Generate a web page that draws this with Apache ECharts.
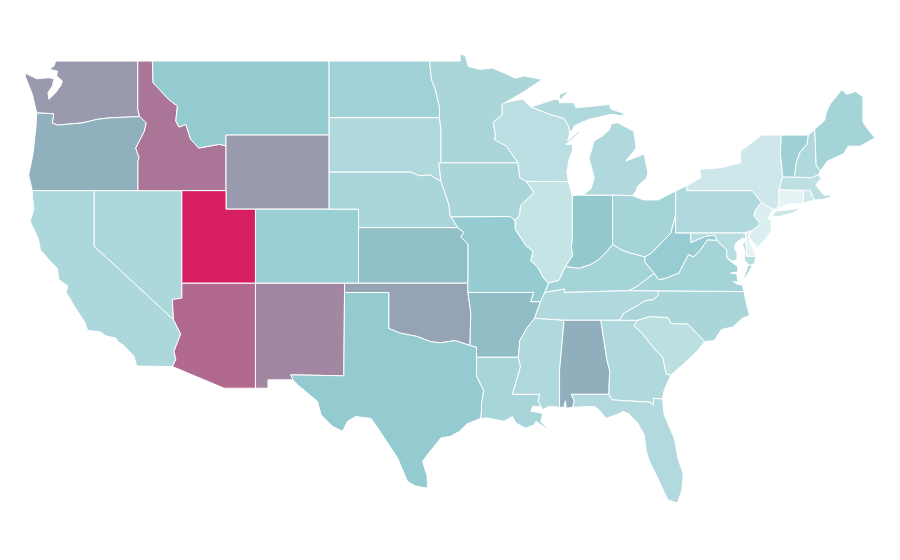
<!DOCTYPE html>
<html>
<head>
<meta charset="utf-8">
<title>US states</title>
<script src="https://cdn.jsdelivr.net/npm/echarts@6/dist/echarts.min.js"></script>
<style>
  html, body { margin: 0; background: #fff; }
  #chart { width: 900px; height: 560px; }
</style>
</head>
<body>
<div id="chart"></div>
<script>
// state names and values (colour -> value)
var states = ['Washington','Oregon','California','Nevada','Idaho','Montana','Wyoming','Utah','Arizona','Colorado','New Mexico',
  'North Dakota','South Dakota','Nebraska','Kansas','Oklahoma','Texas','Minnesota','Iowa','Missouri','Arkansas','Louisiana',
  'Wisconsin','Illinois','Indiana','Michigan','Ohio','Kentucky','Tennessee','Mississippi','Alabama','Georgia','Florida',
  'South Carolina','North Carolina','Virginia','West Virginia','Maryland','Delaware','Pennsylvania','New Jersey','New York',
  'Connecticut','Rhode Island','Massachusetts','Vermont','New Hampshire','Maine'];
var values = [64,52,18,18,79,25,64,100,82,23,75,
  21.5,17,19,38,59,25,18.5,18.5,24.4,39,19.5,
  14,11,28,17,20,20,17,17,53,17,16.5,
  13.5,18.5,20,24,15.5,2,17,5,9,
  2,9,13,22,17,20];
var colorStops = ['#edf7f8','#93cbd0','#8fb4bf','#a386a2','#d81e63'];

// state outlines, lon/lat rings, registered as the base map
var idmt = [[-116.05,49],[-116,47.83],[-115.37,47.29],[-114.9,46.9],[-114.35,46.57],[-114.46,45.76],[-114.24,45.43],[-113.78,45.58],[-113.45,44.77],[-112.9,44.3],[-111.5,44.5],[-111.05,44.42]];
var columbia = [[-123.9,46.2],[-122.75,46.15],[-122.85,45.66],[-122.5,45.54],[-120.8,45.66],[-119.8,45.85],[-119,45.93],[-116.92,46]];
var snake = [[-116.92,46],[-116.46,45.66],[-116.6,45.2],[-117.18,44.3],[-116.95,43.77],[-117.03,43.6],[-117.03,42]];
var redRiver = [[-94.48,33.64],[-95.5,33.9],[-96.5,33.78],[-97.2,33.85],[-98.1,34.13],[-99.2,34.3],[-100,34.56]];
var midMiss = [[-91.42,40.38],[-91.4,39.9],[-90.65,39],[-90.2,38.75],[-90.35,38.2],[-89.9,37.9],[-89.5,37.3],[-89.15,37]];
var ohioRiver = [[-84.8,39.1],[-85.2,38.7],[-85.7,38.3],[-86.3,38],[-87.1,37.8],[-88,37.9]];
var ohioUpper = [[-80.52,40.64],[-80.85,39.7],[-81.7,39],[-82.2,38.6],[-82.6,38.42]];
var ohKy = [[-82.6,38.42],[-83.7,38.65],[-84.2,38.8],[-84.8,39.1]];
var wvVa = [[-77.72,39.32],[-78.35,39.35],[-78.87,38.77],[-79.3,38.42],[-79.65,38.55],[-80.3,37.55],[-81.25,37.25],[-81.68,37.2],[-81.97,37.54]];
var tnNc = [[-84.32,35],[-84,35.4],[-83.1,35.8],[-82.6,36.05],[-82,36.12],[-81.7,36.35],[-81.68,36.59]];
var scLine = [[-83.1,35],[-82.3,35.2],[-81.05,35.15],[-80.8,34.82],[-79.68,34.8],[-78.55,33.85]];
var gaSc = [[-83.1,35],[-83.35,34.7],[-82.8,34.3],[-82,33.5],[-81.4,33],[-81.15,32.1],[-80.85,32.03]];
var wiUp = [[-90.4,46.55],[-89.1,46.13],[-88.1,45.9],[-87.8,45.5],[-87.7,45.15]];
var rev = function (a) { return a.slice().reverse(); };

var shapes = {
  'Washington': [[[-122.62,49],[-117.04,49],[-117.04,46.42],[-116.92,46]].concat(rev(columbia), [[-124.2,47.2],[-124.65,48.1],[-124.7,48.35],[-123.9,48.04],[-123.07,48.1],[-122.73,48.04],[-122.84,47.65],[-123.14,47.29],[-123.07,46.93],[-122.62,47.29],[-122.27,47.68],[-122.16,47.92],[-122.55,48.19],[-122.5,48.46],[-123.07,48.55],[-122.73,48.73]])],
  'Oregon': [columbia.concat(snake, [[-124.2,42],[-124.45,42.85],[-124.15,44],[-123.95,45.5]])],
  'California': [[[-124.2,42],[-120,42],[-120,39],[-114.62,35.04],[-114.13,34.26],[-114.58,33.32],[-114.46,32.87],[-114.69,32.5],[-117.12,32.53],[-117.3,33.05],[-118,33.65],[-118.4,33.85],[-118.5,34.03],[-119.2,34.15],[-119.6,34.38],[-120.44,34.45],[-120.65,34.9],[-121.3,35.7],[-121.9,36.5],[-121.8,36.85],[-122.4,37.2],[-122.5,37.8],[-123,38.2],[-123.65,38.8],[-123.8,39.4],[-124.35,40.35],[-124.1,41],[-124.2,41.75]]],
  'Nevada': [[[-120,42],[-114.05,42],[-114.05,36.2],[-114.69,36.12],[-114.62,35.04],[-120,39]]],
  'Idaho': [[[-117.04,49]].concat(idmt, [[-111.05,42]], rev(snake), [[-117.04,46.42]])],
  'Montana': [[[-116.05,49],[-104.05,49],[-104.05,45],[-111.05,45]].concat(rev(idmt))],
  'Wyoming': [[[-111.05,45],[-104.05,45],[-104.05,41],[-111.05,41]]],
  'Utah': [[[-114.05,42],[-111.05,42],[-111.05,41],[-109.05,41],[-109.05,37],[-114.05,37]]],
  'Arizona': [[[-114.05,37],[-109.05,37],[-109.05,31.33],[-111.18,31.33],[-114.69,32.5],[-114.46,32.87],[-114.58,33.32],[-114.13,34.26],[-114.62,35.04],[-114.69,36.12],[-114.05,36.2]]],
  'Colorado': [[[-109.05,41],[-102.05,41],[-102.05,37],[-109.05,37]]],
  'New Mexico': [[[-109.05,37],[-103,37],[-103.05,32],[-106.65,32.05],[-106.5,31.78],[-108.2,31.78],[-108.2,31.33],[-109.05,31.33]]],
  'North Dakota': [[[-104.05,49],[-97.23,49],[-97.1,48],[-96.85,47.5],[-96.55,46.5],[-96.56,45.94],[-104.05,45.94]]],
  'South Dakota': [[[-104.05,45.94],[-96.56,45.94],[-96.45,45.3],[-96.45,43.5],[-96.6,43.5],[-96.45,42.49],[-97.2,42.85],[-97.9,42.8],[-98.5,43],[-104.05,43]]],
  'Nebraska': [[[-104.05,43],[-98.5,43],[-97.9,42.8],[-97.2,42.85],[-96.45,42.49],[-96.1,41.7],[-95.9,41.2],[-95.85,40.7],[-95.31,40],[-102.05,40],[-102.05,41],[-104.05,41]]],
  'Kansas': [[[-102.05,40],[-95.31,40],[-94.9,39.75],[-95.1,39.5],[-94.61,39.1],[-94.62,37],[-102.05,37]]],
  'Oklahoma': [[[-103,37],[-94.62,37],[-94.62,36.5],[-94.43,35.4]].concat(redRiver, [[-100,36.5],[-103,36.5]])],
  'Texas': [[[-103,36.5],[-100,36.5]].concat(rev(redRiver), [[-94.04,33.55],[-94.04,32],[-93.55,31.2],[-93.7,30.5],[-93.7,30.1],[-93.75,29.7],[-94.7,29.4],[-95.2,29],[-95.8,28.73],[-96.46,28.64],[-97.36,27.75],[-97.7,27.38],[-97.4,26.6],[-97.36,25.93],[-98.2,26.05],[-98.73,26.3],[-99.4,27.56],[-100.3,28.64],[-100.8,29.25],[-101.2,29.7],[-102.24,29.8],[-102.8,29.54],[-103.14,29],[-103.82,29.27],[-104.6,29.9],[-104.84,30.62],[-106.2,31.52],[-106.5,31.78],[-106.65,32.05],[-103.05,32]])],
  'Minnesota': [[[-97.23,49],[-95.15,49],[-95.15,49.38],[-94.8,49.3],[-94.6,48.7],[-93.8,48.55],[-92.95,48.62],[-92,48.3],[-91.4,48.07],[-90.8,48.2],[-89.6,48],[-90.8,47.35],[-92.1,46.75],[-92.3,46.65],[-92.29,46.1],[-92.9,45.7],[-92.75,45],[-92.8,44.75],[-92,44.4],[-91.22,43.5],[-96.45,43.5],[-96.45,45.3],[-96.56,45.94],[-96.55,46.5],[-96.85,47.5],[-97.1,48]]],
  'Iowa': [[[-96.45,43.5],[-91.22,43.5],[-91.1,42.7],[-90.65,42.5],[-90.15,41.9],[-90.3,41.75],[-91.05,41.2],[-91.1,40.7],[-91.42,40.38],[-91.73,40.6],[-95.77,40.58],[-95.85,40.7],[-95.9,41.2],[-96.1,41.7],[-96.45,42.49],[-96.6,43.5]]],
  'Missouri': [[[-95.77,40.58],[-91.73,40.6]].concat(midMiss, [[-89.4,36.5],[-89.7,36],[-90.37,36],[-90.15,36.5],[-94.62,36.5],[-94.62,37],[-94.61,39.1],[-95.1,39.5],[-94.9,39.75],[-95.31,40],[-95.85,40.7]])],
  'Arkansas': [[[-94.62,36.5],[-90.15,36.5],[-90.37,36],[-89.7,36],[-90.1,35.1],[-90.6,34.6],[-91.1,33.9],[-91.2,33],[-94.04,33],[-94.04,33.55],[-94.48,33.64],[-94.43,35.4]]],
  'Louisiana': [[[-94.04,33],[-91.2,33],[-91.05,32.5],[-91.6,31],[-89.75,31],[-89.85,30.65],[-89.55,30.17],[-89.78,30.35],[-90.23,30.35],[-90.35,30.08],[-89.68,30],[-89.55,29.9],[-89.68,29.54],[-89.1,29.04],[-90,29.54],[-90.12,29.36],[-90.7,29.17],[-91.37,29.45],[-91.6,29.8],[-92.18,29.54],[-93.3,29.72],[-93.75,29.7],[-93.7,30.1],[-93.7,30.5],[-93.55,31.2],[-94.04,32]]],
  'Wisconsin': [[[-92.1,46.75],[-90.9,46.95]].concat(wiUp, [[-87.85,44.7],[-87.1,45.2],[-87,45.15],[-87.29,44.95],[-87.97,44.5],[-87.52,44.5],[-87.52,44.14],[-87.75,43.7],[-87.9,43],[-87.8,42.49],[-90.65,42.5],[-91.1,42.7],[-91.22,43.5],[-92,44.4],[-92.8,44.75],[-92.75,45],[-92.9,45.7],[-92.29,46.1],[-92.3,46.65]])],
  'Illinois': [[[-90.65,42.5],[-87.8,42.49],[-87.53,41.72],[-87.53,39.35],[-87.6,39],[-87.5,38.5],[-88,37.9],[-88.45,37.15],[-89.15,37]].concat(rev(midMiss).slice(1), [[-91.1,40.7],[-91.05,41.2],[-90.3,41.75],[-90.15,41.9]])],
  'Indiana': [[[-87.53,41.72],[-87.2,41.76],[-84.8,41.76]].concat(ohioRiver, [[-87.5,38.5],[-87.6,39],[-87.53,39.35]])],
  'Michigan': [[[-86.8,41.76],[-84.8,41.76],[-83.45,41.73],[-83.2,42],[-83.1,42.25],[-82.5,42.65],[-82.4,42.95],[-82.65,43.97],[-83.9,43.6],[-83.2,44.3],[-83.35,45.2],[-84.45,45.67],[-84.9,45.6],[-85,45.3],[-85.5,44.95],[-86.05,44.68],[-86.4,43.75],[-86.05,42.7],[-86.27,42.1]],
    wiUp.concat([[-87.55,45.25],[-87.4,45.49],[-86.95,45.67],[-86.39,45.85],[-84.9,46.12],[-84,46.03],[-84.1,46.2],[-84.9,46.4],[-85.03,46.66],[-86.05,46.57],[-87.3,46.48],[-87.4,46.75],[-88.42,46.75],[-88.42,47.2],[-87.75,47.38],[-88.3,46.93],[-88.76,46.93],[-90.14,46.57]])],
  'Ohio': [[[-84.8,41.76],[-83.45,41.73],[-82.7,41.5],[-81.7,41.5],[-80.52,41.98]].concat(ohioUpper, ohKy)],
  'Kentucky': [[[-89.4,36.5],[-88.07,36.68],[-88.07,36.5],[-83.68,36.6],[-83.1,36.85],[-81.97,37.54],[-82.6,38.15]].concat(ohKy, ohioRiver.slice(1), [[-88.45,37.15],[-89.15,37]])],
  'Tennessee': [[[-90.1,35.1],[-88.2,35],[-85.6,35]].concat(tnNc, [[-83.68,36.6],[-88.07,36.5],[-88.07,36.68],[-89.4,36.5],[-89.7,36]])],
  'Mississippi': [[[-90.1,35.1],[-88.2,35],[-88.1,34.9],[-88.4,32.3],[-88.4,30.3],[-89.1,30.35],[-89.55,30.17],[-89.85,30.65],[-89.75,31],[-91.6,31],[-91.05,32.5],[-91.2,33],[-91.1,33.9],[-90.6,34.6]]],
  'Alabama': [[[-88.2,35],[-85.6,35],[-85.18,32.85],[-85,32.3],[-85.05,31],[-87.6,31],[-87.4,30.65],[-87.5,30.3],[-87.95,30.25],[-88,30.65],[-88.1,30.3],[-88.4,30.3],[-88.4,32.3],[-88.1,34.9]]],
  'Georgia': [[[-85.6,35]].concat(gaSc, [[-81.3,31.2],[-81.4,30.75],[-82,30.78],[-82.05,30.4],[-82.2,30.57],[-84.85,30.7],[-85.05,31],[-85,32.3],[-85.18,32.85]])],
  'Florida': [[[-87.6,31],[-85.05,31],[-84.85,30.7],[-82.2,30.57],[-82.05,30.4],[-82,30.78],[-81.4,30.75],[-81.3,29.9],[-80.6,28.6],[-80.35,27.5],[-80,26.7],[-80.1,25.8],[-80.4,25.13],[-81.05,25.3],[-81.75,26.5],[-82.3,27.4],[-82.5,27.9],[-82.65,28.8],[-83.1,29.45],[-83.7,29.95],[-84.12,30.08],[-84.35,29.95],[-85.25,29.7],[-85.7,30.15],[-86.05,30.35],[-87.5,30.3],[-87.4,30.65]]],
  'South Carolina': [scLine.concat([[-79.1,33.3],[-79.9,32.7]], rev(gaSc))],
  'North Carolina': [tnNc.concat([[-75.87,36.55],[-75.8,36.2],[-75.5,35.25],[-76,35.1],[-76.6,34.65],[-77.4,34.5],[-77.9,33.9]], rev(scLine))],
  'Virginia': [[[-83.68,36.6],[-81.68,36.59],[-75.87,36.55],[-76,36.9],[-76.35,36.95],[-76.6,37.1],[-76.3,37.05],[-76.35,37.5],[-76.8,37.55],[-76.3,37.6],[-76.3,37.9],[-76.9,38.25],[-77.05,38.4],[-77.05,38.8]].concat(wvVa, [[-83.1,36.85]]),
    [[-75.95,37.15],[-75.6,37.95],[-75.3,38],[-75.7,37.4]]],
  'West Virginia': [[[-80.52,40.64],[-80.52,39.72],[-79.48,39.72],[-79.48,39.2],[-78.45,39.55],[-77.85,39.6]].concat(wvVa, [[-82.6,38.15]], rev(ohioUpper))],
  'Maryland': [[[-79.48,39.72],[-75.79,39.72],[-75.7,38.46],[-75.05,38.45],[-75.2,38.03],[-75.52,37.97],[-75.86,38.28],[-75.8,38.64],[-75.97,39.09],[-75.75,39.36],[-75.97,39.45],[-76.42,39.18],[-76.54,38.91],[-76.35,38.64],[-76.35,38.25],[-76.7,38.2],[-77.05,38.4],[-77.05,38.8],[-77.72,39.32],[-77.85,39.6],[-78.45,39.55],[-79.48,39.2]]],
  'Delaware': [[[-75.79,39.72],[-75.5,39.83],[-75.4,39.8],[-75.55,39.5],[-75.4,39.05],[-75.05,38.45],[-75.7,38.46]]],
  'Pennsylvania': [[[-80.52,41.98],[-79.76,42.27],[-79.76,42],[-75.35,42],[-75.05,41.75],[-74.7,41.36],[-75.1,40.95],[-75.2,40.65],[-74.75,40.2],[-75.4,39.8],[-75.5,39.83],[-75.79,39.72],[-80.52,39.72]]],
  'New Jersey': [[[-74.7,41.36],[-73.9,41],[-74.25,40.5],[-74,40.4],[-74.05,39.8],[-74.4,39.4],[-74.95,38.93],[-75.55,39.5],[-75.4,39.8],[-74.75,40.2],[-75.2,40.65],[-75.1,40.95]]],
  'New York': [[[-79.76,42.27],[-78.8,42.7],[-78.9,43.15],[-77.44,43.24],[-76.1,43.5],[-76.1,44.14],[-74.84,44.9],[-74.7,45],[-73.35,45],[-73.4,44],[-73.25,42.75],[-73.5,42.05],[-73.5,41.3],[-73.65,41],[-73.9,41],[-74.7,41.36],[-75.05,41.75],[-75.35,42],[-79.76,42]],
    [[-74,40.6],[-73.7,40.9],[-72.6,40.98],[-72,41.1],[-72.5,40.8],[-73.5,40.6]]],
  'Connecticut': [[[-73.5,42.05],[-71.8,42.02],[-71.85,41.32],[-72.9,41.25],[-73.65,41],[-73.5,41.3]]],
  'Rhode Island': [[[-71.8,42.02],[-71.38,42.02],[-71.12,41.5],[-71.85,41.32]]],
  'Massachusetts': [[[-73.5,42.05],[-73.25,42.75],[-72.45,42.73],[-71.3,42.7],[-70.82,42.87],[-70.65,42.65],[-71,42.3],[-70.55,41.85],[-70.4,41.75],[-70,41.78],[-69.97,41.65],[-70.55,41.52],[-71.12,41.5],[-71.38,42.02],[-71.8,42.02]]],
  'Vermont': [[[-73.35,45],[-71.5,45],[-71.6,44.5],[-72.05,44.1],[-72.3,43.6],[-72.45,42.73],[-73.25,42.75],[-73.4,44]]],
  'New Hampshire': [[[-71.5,45],[-71.08,45.3],[-71.03,44.6],[-70.98,43.4],[-70.7,43.07],[-70.82,42.87],[-71.3,42.7],[-72.45,42.73],[-72.3,43.6],[-72.05,44.1],[-71.6,44.5]]],
  'Maine': [[[-71.08,45.3],[-70.4,45.8],[-70.3,46.2],[-70,46.7],[-69.23,47.46],[-68.9,47.2],[-68.3,47.35],[-67.8,47.07],[-67.8,45.7],[-67.45,45.3],[-66.98,44.85],[-68,44.4],[-68.8,44.4],[-69.1,44],[-70.2,43.6],[-70.7,43.07],[-70.98,43.4],[-71.03,44.6]]]
};

var features = states.map(function (name) {
  return {
    type: 'Feature',
    properties: { name: name },
    geometry: { type: 'MultiPolygon', coordinates: shapes[name].map(function (ring) {
      return [ring.concat([ring[0]])];
    }) }
  };
});
echarts.registerMap('USA', { type: 'FeatureCollection', features: features });

var myChart = echarts.init(document.getElementById('chart'));
myChart.setOption({
  animation: false,
  backgroundColor: '#fff',
  tooltip: { trigger: 'item' },
  visualMap: { show: false, min: 0, max: 100, inRange: { color: colorStops } },
  series: [{
    type: 'map',
    map: 'USA',
    aspectScale: 0.796,
    left: 25,
    top: 54,
    width: 850,
    height: 449,
    label: { show: false },
    itemStyle: { borderColor: '#fff', borderWidth: 1 },
    data: states.map(function (name, i) { return { name: name, value: values[i] }; })
  }]
});
</script>
</body>
</html>
